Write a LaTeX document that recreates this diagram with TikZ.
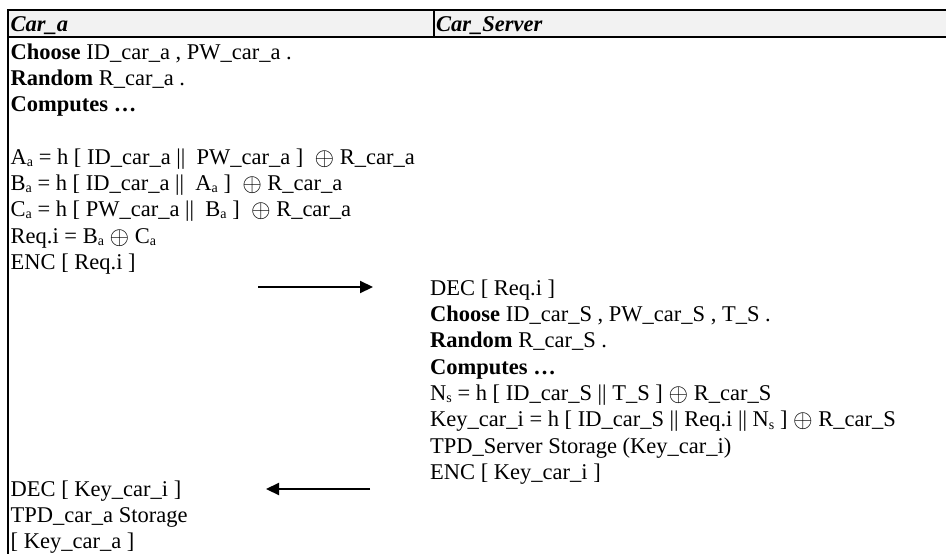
\RequirePackage{fix-cm}
\documentclass[tikz,border=0pt]{standalone}
\usepackage{fontspec}
\usepackage{graphicx}
\setmainfont{Liberation Serif}
\usetikzlibrary{arrows.meta}
\newcommand\sbx[1]{\raisebox{-2.5pt}{\fontsize{14}{14}\selectfont #1}}
\newcommand\opl{\raisebox{-1pt}{\scalebox{1.12}{$\oplus$}}}
\begin{document}
\begin{tikzpicture}[x=1pt,y=-1pt,
  txt/.style={anchor=base west, inner sep=0pt, font=\fontsize{22.5}{27}\selectfont},
  hdr/.style={txt, font=\fontsize{22.5}{27}\selectfont\bfseries\itshape},
  rule/.style={line width=2.3pt},
  arr/.style={line width=2.2pt, -{Triangle[length=13pt,width=12pt]}}]
\useasboundingbox (0,0) rectangle (946,554);
% header
\fill[gray!10] (8,10.3) rectangle (946,37.3);
\draw[rule] (7,10.3) -- (946,10.3);
\draw[rule] (7,37.3) -- (946,37.3);
\draw[line width=2pt] (8,9.2) -- (8,554);
\draw[line width=1.6pt] (433.7,10.3) -- (433.7,37.3);
\node[hdr] (h1) at (10.5,31) {Car\_a};
\node[hdr] (h2) at (436,31) {Car\_Server};
% left column
\node[txt] (l1) at (10.5,59) {\textbf{Choose} ID\_car\_a , PW\_car\_a .};
\node[txt] (l2) at (10.5,85) {\textbf{Random} R\_car\_a .};
\node[txt] (l3) at (10.5,111) {\textbf{Computes …}};
\node[txt] (l4) at (10.5,164) {A\sbx{a} = h [ ID\_car\_a ||~ PW\_car\_a ]~ \opl{} R\_car\_a};
\node[txt] (l5) at (10.5,190) {B\sbx{a} = h [ ID\_car\_a ||~ A\sbx{a} ]~ \opl{} R\_car\_a};
\node[txt] (l6) at (10.5,216) {C\sbx{a} = h [ PW\_car\_a ||~ B\sbx{a} ]~ \opl{} R\_car\_a};
\node[txt] (l7) at (10.5,243) {Req.i = B\sbx{a} \opl{} C\sbx{a}};
\node[txt] (l8) at (10.5,269) {ENC [ Req.i ]};
% right column
\node[txt] (r1) at (430,295) {DEC [ Req.i ]};
\node[txt] (r2) at (430,321) {\textbf{Choose} ID\_car\_S , PW\_car\_S , T\_S .};
\node[txt] (r3) at (430,347.5) {\textbf{Random} R\_car\_S .};
\node[txt] (r4) at (430,374) {\textbf{Computes …}};
\node[txt] (r5) at (430,400) {N\sbx{s} = h [ ID\_car\_S || T\_S ] \opl{} R\_car\_S};
\node[txt] (r6) at (430,426.5) {Key\_car\_i = h [ ID\_car\_S || Req.i || N\sbx{s} ] \opl{} R\_car\_S};
\node[txt] (r7) at (430,453) {TPD\_Server Storage (Key\_car\_i)};
\node[txt] (r8) at (430,479) {ENC [ Key\_car\_i ]};
% left bottom
\node[txt] (l9) at (10.5,496) {DEC [ Key\_car\_i ]};
\node[txt] (l10) at (10.5,522) {TPD\_car\_a Storage};
\node[txt] (l11) at (10.5,548) {[ Key\_car\_a ]};
% arrows
\coordinate (a1s) at (258,287);
\coordinate (a1e) at (373,287);
\coordinate (a2s) at (370,489);
\coordinate (a2e) at (266,489);
\draw[arr] (a1s) -- (a1e);
\draw[arr] (a2s) -- (a2e);
\end{tikzpicture}
\end{document}
